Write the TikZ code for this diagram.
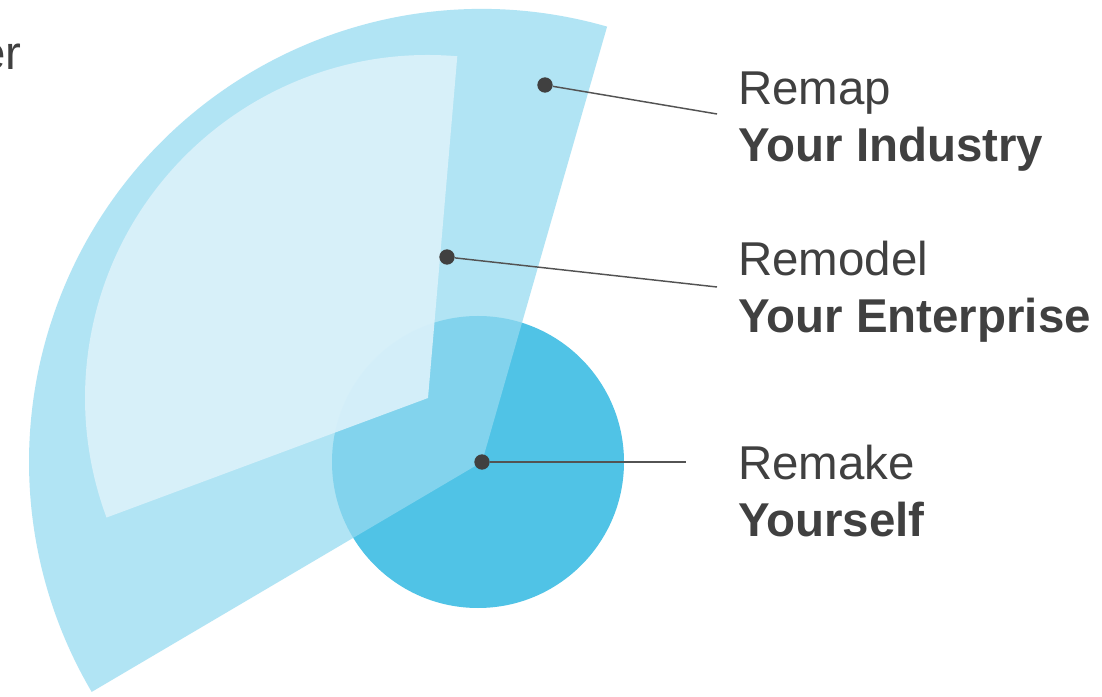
\documentclass[tikz,border=0pt]{standalone}
\usepackage{fontspec}
\setmainfont{Liberation Sans}
\usetikzlibrary{positioning}
\definecolor{corec}{RGB}{80, 195, 230}
\definecolor{outerc}{RGB}{149, 218, 240}
\definecolor{innerc}{RGB}{218, 241, 250}
\definecolor{textc}{RGB}{64, 64, 64}
\tikzset{
	dot/.style={
		circle, inner sep=0pt, minimum size=11.5pt, fill=textc
	},
	%
	leader/.style={
		draw=textc!90, line width=1.1pt
	},
	%
	levellabel/.style={
		anchor=base west, inner sep=0pt, align=left, text=textc,
		font=\fontsize{35.6}{42.75}\selectfont
	}
}

\begin{document}
\begin{tikzpicture}[x=0.75pt, y=0.75pt]
\useasboundingbox[fill=white] (0,0) rectangle (1102,696);

% the three rings
\fill[corec] (478,234) circle[radius=146];
\fill[outerc, fill opacity=0.73] (482,234) -- ++(73.97:453) arc[start angle=73.97, end angle=210.5, radius=453] -- cycle;
\fill[innerc, fill opacity=0.93] (428,298) -- ++(85.1:343) arc[start angle=85.1, end angle=200.4, radius=343] -- cycle;

\node(cut)[anchor=base east, inner sep=0pt, text=textc, font=\fontsize{35.6}{42.75}\selectfont] at (22,626) {er};

\node(mapdot)[dot] at (545,611) {};
\node(modeldot)[dot] at (447,439) {};
\node(makedot)[dot] at (482,234) {};

% base anchor sits on the last line
\node(map)[levellabel] at (738,534) {Remap\\\textbf{Your Industry}};
\node(model)[levellabel] at (738,363) {Remodel\\\textbf{Your Enterprise}};
\node(make)[levellabel] at (738,159) {Remake\\\textbf{Yourself}};

\coordinate(mapend) at (717,582);
\coordinate(modelend) at (717,409);
\coordinate(makeend) at (686,234);

\draw[leader] (mapdot) -- (mapend);
\draw[leader] (modeldot) -- (modelend);
\draw[leader] (makedot) -- (makeend);
\end{tikzpicture}
\end{document}
